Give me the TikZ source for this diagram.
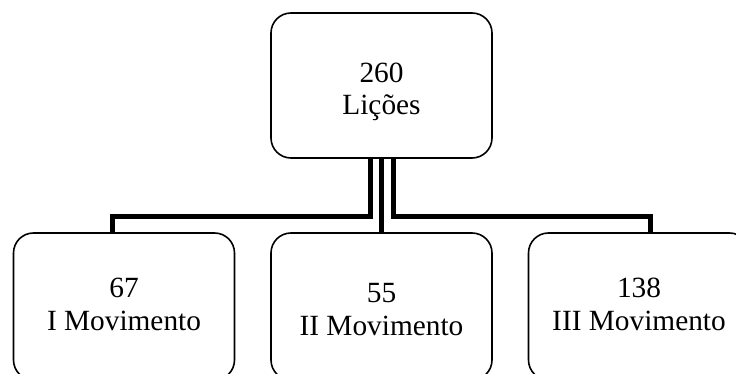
\documentclass[tikz,border=0pt]{standalone}
\usepackage{fontspec}
\setmainfont{Liberation Serif}
\usetikzlibrary{calc}
\begin{document}
\begin{tikzpicture}[x=0.75pt,y=-0.75pt,
  box/.style={draw, line width=1.2pt, rounded corners=15pt, minimum width=165.75pt, inner sep=0pt},
  txt/.style={font=\fontsize{22}{25}\selectfont, anchor=base, inner sep=0pt},
  conn/.style={line width=3.75pt}]
\useasboundingbox (0,0) rectangle (736,374);
\clip (0,0) rectangle (736,374);
% boxes
\node[box, minimum height=108.75pt] (t) at (381.5,85.5) {};
\node[box, minimum height=110.25pt] (l) at (124,306.5) {};
\node[box, minimum height=110.25pt] (m) at (381.5,306.5) {};
\node[box, minimum height=110.25pt] (r) at (639,306.5) {};
% texts
\node[txt] (t1) at ($(t.center)+(0,-2.5)$) {260};
\node[txt] (t2) at ($(t.center)+(0,29.5)$) {Lições};
\node[txt] (l1) at ($(l.center)+(0,-9.5)$) {67};
\node[txt] (l2) at ($(l.center)+(0,23.5)$) {I Movimento};
\node[txt] (m1) at ($(m.center)+(0,-4.5)$) {55};
\node[txt] (m2) at ($(m.center)+(0,28.5)$) {II Movimento};
\node[txt] (r1) at ($(r.center)+(0,-9.5)$) {138};
\node[txt] (r2) at ($(r.center)+(0,23.5)$) {III Movimento};
% connectors
\draw[conn] ($(t.south)+(-11.5,0)$) |- ($(l.north)+(-11.5,-16)$) -- ($(l.north)+(-11.5,0)$);
\draw[conn] (t.south) -- (m.north);
\draw[conn] ($(t.south)+(11.5,0)$) |- ($(r.north)+(11.5,-16)$) -- ($(r.north)+(11.5,0)$);
\end{tikzpicture}
\end{document}
